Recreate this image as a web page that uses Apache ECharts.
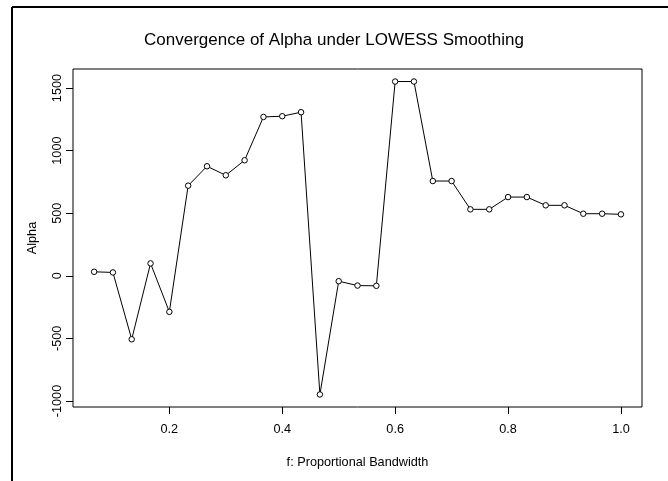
<!DOCTYPE html>
<html>
<head>
    <meta charset="UTF-8">
    <title>Convergence of Alpha under LOWESS Smoothing</title>
    <script src="https://cdn.jsdelivr.net/npm/echarts@6/dist/echarts.min.js"></script>
    <style>
        html, body { margin: 0; padding: 0; background: #fff; }
        #main { width: 668px; height: 481px; }
    </style>
</head>
<body>
    <div id="main"></div>
    <script type="text/javascript">
        // f = k/30, k = 2..30
        var bandwidth = [0.0667, 0.1, 0.1333, 0.1667, 0.2, 0.2333, 0.2667, 0.3, 0.3333, 0.3667,
            0.4, 0.4333, 0.4667, 0.5, 0.5333, 0.5667, 0.6, 0.6333, 0.6667, 0.7,
            0.7333, 0.7667, 0.8, 0.8333, 0.8667, 0.9, 0.9333, 0.9667, 1.0];
        // alpha
        var alpha = [32, 27, -507, 99, -288, 720, 875, 803, 923, 1269,
            1275, 1307, -948, -43, -78, -80, 1552, 1552, 757, 757,
            531, 531, 629, 629, 563, 563, 496, 496, 491];
        var xTicks = [0.2, 0.4, 0.6, 0.8, 1.0];
        var yTicks = [-1000, -500, 0, 500, 1000, 1500];

        var points = [];
        for (var i = 0; i < bandwidth.length; i++) {
            points.push([bandwidth[i], alpha[i]]);
        }

        var font = 'Liberation Sans, Arial, sans-serif';
        var myChart = echarts.init(document.getElementById('main'));

        var option = {
            animation: false,
            backgroundColor: '#fff',
            title: {
                text: 'Convergence of Alpha under LOWESS Smoothing',
                left: 'center',
                top: 27,
                textStyle: { fontFamily: font, fontSize: 17, fontWeight: 'normal', color: '#000' }
            },
            grid: {
                left: 73,
                top: 69,
                right: 26,
                bottom: 74,
                show: true,
                borderColor: '#000',
                borderWidth: 1
            },
            xAxis: {
                type: 'value',
                min: 0.0293,
                max: 1.0373,
                name: 'f: Proportional Bandwidth',
                nameLocation: 'middle',
                nameGap: 49,
                nameTextStyle: { fontFamily: font, fontSize: 12.7, color: '#000' },
                axisLine: { show: false, onZero: false },
                splitLine: { show: false },
                axisTick: { show: true, length: 7, customValues: xTicks, lineStyle: { color: '#000' } },
                axisLabel: {
                    customValues: xTicks,
                    margin: 16,
                    fontFamily: font,
                    fontSize: 12.7,
                    color: '#000',
                    formatter: function (v) { return v.toFixed(1); }
                }
            },
            yAxis: {
                type: 'value',
                min: -1048,
                max: 1652,
                name: 'Alpha',
                nameLocation: 'middle',
                nameGap: 34,
                nameRotate: 90,
                nameTextStyle: { fontFamily: font, fontSize: 12.7, color: '#000' },
                axisLine: { show: false, onZero: false },
                splitLine: { show: false },
                axisTick: { show: true, length: 7, customValues: yTicks, lineStyle: { color: '#000' } },
                axisLabel: {
                    customValues: yTicks,
                    rotate: 90,
                    margin: 9,
                    fontFamily: font,
                    fontSize: 12.7,
                    color: '#000',
                    formatter: function (v) { return String(v); }
                }
            },
            graphic: [
                { type: 'line', shape: { x1: 12, y1: 7, x2: 668, y2: 7 }, style: { stroke: '#000', lineWidth: 2 } },
                { type: 'line', shape: { x1: 12, y1: 7, x2: 12, y2: 481 }, style: { stroke: '#000', lineWidth: 2 } }
            ],
            series: [{
                name: 'Alpha',
                type: 'line',
                data: points,
                symbol: 'circle',
                symbolSize: 5.5,
                lineStyle: { color: '#000', width: 1 },
                itemStyle: { color: '#fff', borderColor: '#000', borderWidth: 1 }
            }]
        };

        myChart.setOption(option);
    </script>
</body>
</html>
